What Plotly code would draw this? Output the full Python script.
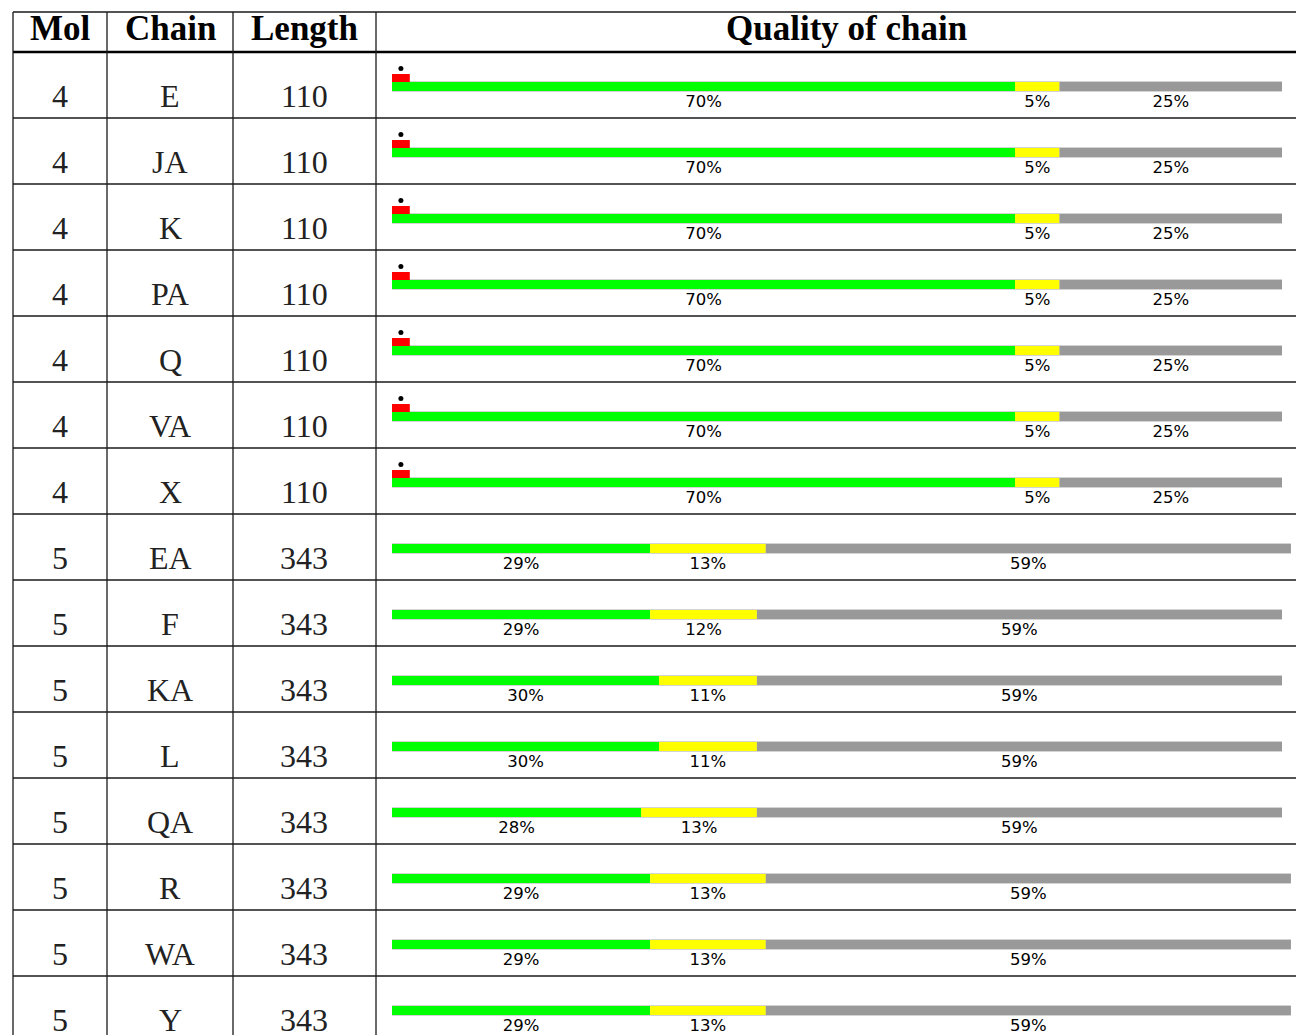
import plotly.graph_objects as go

# ---------------- data ----------------
mol = ["4", "4", "4", "4", "4", "4", "4", "5", "5", "5", "5", "5", "5", "5", "5"]
chains = ["E", "JA", "K", "PA", "Q", "VA", "X", "EA", "F", "KA", "L", "QA", "R", "WA", "Y"]
lengths = ["110", "110", "110", "110", "110", "110", "110",
           "343", "343", "343", "343", "343", "343", "343", "343"]
good = [70, 70, 70, 70, 70, 70, 70, 29, 29, 30, 30, 28, 29, 29, 29]        # green
fair = [5, 5, 5, 5, 5, 5, 5, 13, 12, 11, 11, 13, 13, 13, 13]               # yellow
missing = [25, 25, 25, 25, 25, 25, 25, 59, 59, 59, 59, 59, 59, 59, 59]    # grey
outlier = [2, 2, 2, 2, 2, 2, 2, 0, 0, 0, 0, 0, 0, 0, 0]                    # red (upper bar)
headers = ["Mol", "Chain", "Length", "Quality of chain"]

# ---------------- geometry (pixels in the page; the page body adds an 8px margin) ----------------
OFF = 8
W, H = 1304 - OFF, 1035 - OFF
ROW_H = 66
HEAD_TOP, HEAD_BOT = 12 - OFF, 52 - OFF
BAR_X0, BAR_X100 = 392 - OFF, 1282 - OFF
PX_PER_PCT = (BAR_X100 - BAR_X0) / 100.0
BAR_C0 = 86.5 - OFF               # pixel centre of first bar
col_lines = [13 - OFF, 107 - OFF, 233 - OFF, 376 - OFF]
col_centers = [60 - OFF, 170 - OFF, 304 - OFF, 846 - OFF]

n = len(chains)
rows = list(range(n))
u = 1.0 / ROW_H             # one pixel in row units


def py(p):
    return 1 - p / H


def px(p):
    return p / W


fig = go.Figure()

totals = [g + f + m for g, f, m in zip(good, fair, missing)]
base_fair = [g for g in good]
base_miss = [g + f for g, f in zip(good, fair)]

# light outline behind the bar
fig.add_trace(go.Bar(y=rows, x=totals, base=[0] * n, orientation="h",
                     width=11 * u, marker=dict(color="#d4d4d4", line=dict(width=0)),
                     hoverinfo="skip", showlegend=False))
fig.add_trace(go.Bar(y=rows, x=good, base=[0] * n, orientation="h",
                     width=9 * u, marker=dict(color="#00ff00", line=dict(width=0)),
                     name="good", showlegend=False))
fig.add_trace(go.Bar(y=rows, x=fair, base=base_fair, orientation="h",
                     width=9 * u, marker=dict(color="#ffff00", line=dict(width=0)),
                     name="fair", showlegend=False))
fig.add_trace(go.Bar(y=rows, x=missing, base=base_miss, orientation="h",
                     width=9 * u, marker=dict(color="#999999", line=dict(width=0)),
                     name="missing", showlegend=False))
# red upper bar
fig.add_trace(go.Bar(y=rows, x=outlier, base=[0] * n, orientation="h",
                     width=8 * u, offset=-12.5 * u,
                     marker=dict(color="#ff0000", line=dict(width=0)),
                     name="outliers", showlegend=False))
# dot above the red bar
dot_rows = [r for r, o in zip(rows, outlier) if o > 0]
dot_x = [outlier[r] / 2 for r in dot_rows]
fig.add_trace(go.Scatter(x=dot_x, y=[r - 18 * u for r in dot_rows], mode="markers",
                         marker=dict(color="black", size=5), showlegend=False,
                         hoverinfo="skip"))

# percentage labels below the bars
lab_x, lab_y, lab_t = [], [], []
for r in rows:
    segs = [(0, good[r]), (base_fair[r], fair[r]), (base_miss[r], missing[r])]
    for b, v in segs:
        lab_x.append(b + v / 2)
        lab_y.append(r + 16 * u)
        lab_t.append(f"{v}%")
fig.add_trace(go.Scatter(x=lab_x, y=lab_y, text=lab_t, mode="text",
                         textposition="middle center",
                         textfont=dict(family="DejaVu Sans", size=16.5, color="black"),
                         showlegend=False, hoverinfo="skip", cliponaxis=False))

# ---------------- table text ----------------
annotations = []
serif = "Liberation Serif"
for c, h in enumerate(headers):
    annotations.append(dict(xref="paper", yref="paper", x=px(col_centers[c]), y=py(29 - OFF),
                            text=f"<b>{h}</b>", showarrow=False, xanchor="center",
                            yanchor="middle",
                            font=dict(family=serif, size=35, color="black")))
for r in rows:
    for c, txt in enumerate([mol[r], chains[r], lengths[r]]):
        annotations.append(dict(xref="paper", yref="y", x=px(col_centers[c]), y=r,
                                yshift=-9, text=txt, showarrow=False,
                                xanchor="center", yanchor="middle",
                                font=dict(family=serif, size=32, color="#222222")))

# ---------------- table lines ----------------
shapes = []
line_c = "#1a1a1a"
shapes.append(dict(type="line", xref="paper", yref="paper", x0=px(col_lines[0]), x1=1,
                   y0=py(HEAD_TOP), y1=py(HEAD_TOP), line=dict(color=line_c, width=1.5)))
shapes.append(dict(type="line", xref="paper", yref="paper", x0=px(col_lines[0]), x1=1,
                   y0=py(HEAD_BOT), y1=py(HEAD_BOT), line=dict(color="black", width=2.5)))
for k in range(1, n + 1):
    yy = HEAD_BOT + ROW_H * k
    if yy < H:
        shapes.append(dict(type="line", xref="paper", yref="paper", x0=px(col_lines[0]), x1=1,
                           y0=py(yy), y1=py(yy), line=dict(color=line_c, width=1.3)))
for xl in col_lines:
    shapes.append(dict(type="line", xref="paper", yref="paper", x0=px(xl), x1=px(xl),
                       y0=py(HEAD_TOP), y1=0, line=dict(color=line_c, width=1.3)))

fig.update_layout(
    width=W, height=H,
    margin=dict(l=0, r=0, t=0, b=0),
    paper_bgcolor="white", plot_bgcolor="rgba(0,0,0,0)",
    barmode="overlay",
    showlegend=False,
    xaxis=dict(domain=[px(BAR_X0), 1], range=[0, (W - BAR_X0) / PX_PER_PCT], visible=False,
               fixedrange=True),
    yaxis=dict(domain=[0, 1], range=[(H - BAR_C0) / ROW_H, -BAR_C0 / ROW_H],
               visible=False, fixedrange=True),
    annotations=annotations,
    shapes=shapes,
)

fig.write_html("out.html")
